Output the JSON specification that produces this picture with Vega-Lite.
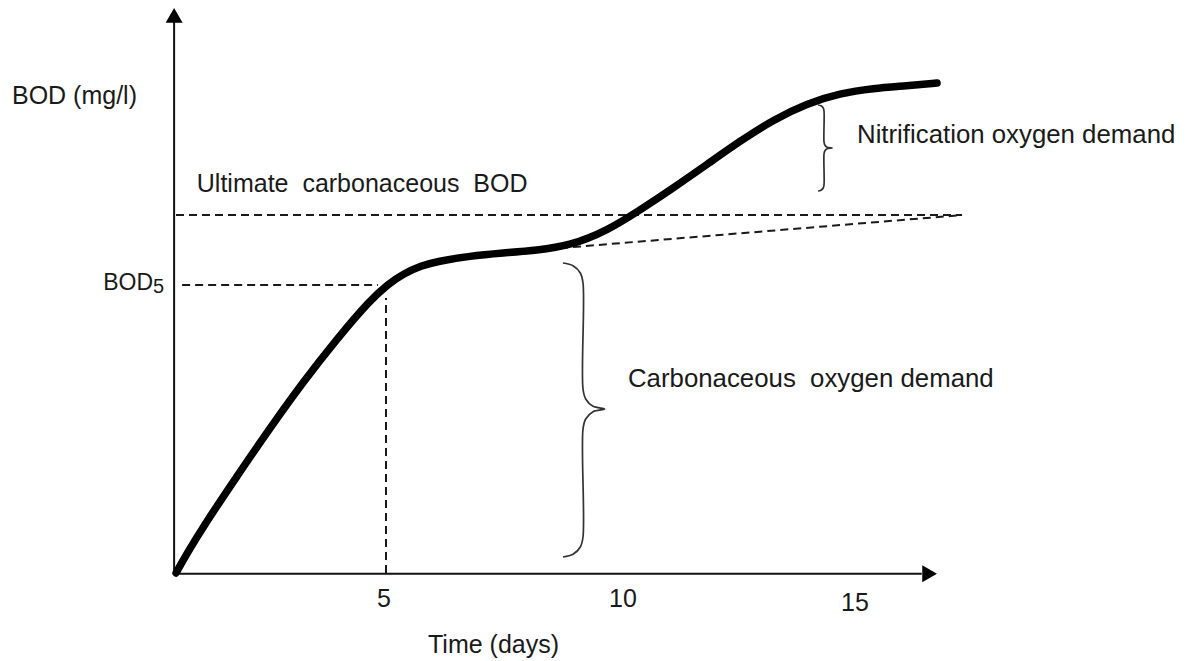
{
  "$schema": "https://vega.github.io/schema/vega-lite/v6.json",
  "width": 1191,
  "height": 661,
  "autosize": {"type": "fit", "contains": "padding"},
  "padding": 0,
  "background": "white",
  "view": {"stroke": null},
  "config": {"font": "Liberation Sans"},
  "datasets": {
    "axes": [
      {"x": 0.46, "y": -0.02, "x2": 0.46, "y2": 15.35},
      {"x": 0.46, "y": -0.02, "x2": 16.3, "y2": -0.02}
    ],
    "arrowUp": [{"x": 0.46, "y": 15.532}],
    "arrowRight": [{"x": 16.466, "y": -0.02}],
    "dashes": [
      {"x": 0.63, "y": 8.02, "x2": 4.78, "y2": 8.02},
      {"x": 4.949, "y": 0, "x2": 4.949, "y2": 7.66},
      {"x": 0.5, "y": 9.97, "x2": 17.153, "y2": 9.97},
      {"x": 8.636, "y": 9.05, "x2": 17.153, "y2": 9.97}
    ],
    "curve": [
      {"x": 0.5, "y": 0},
      {"x": 0.75, "y": 0.58},
      {"x": 1.072, "y": 1.281},
      {"x": 1.792, "y": 2.7},
      {"x": 2.492, "y": 4.039},
      {"x": 3.191, "y": 5.32},
      {"x": 3.911, "y": 6.52},
      {"x": 4.61, "y": 7.6},
      {"x": 5.0, "y": 8.05},
      {"x": 5.309, "y": 8.33},
      {"x": 5.7, "y": 8.56},
      {"x": 6.03, "y": 8.68},
      {"x": 6.729, "y": 8.83},
      {"x": 7.428, "y": 8.914},
      {"x": 8.148, "y": 8.99},
      {"x": 8.847, "y": 9.12},
      {"x": 9.631, "y": 9.53},
      {"x": 10.331, "y": 10.11},
      {"x": 11.03, "y": 10.72},
      {"x": 11.75, "y": 11.38},
      {"x": 12.449, "y": 12.03},
      {"x": 13.148, "y": 12.62},
      {"x": 13.869, "y": 13.08},
      {"x": 14.568, "y": 13.36},
      {"x": 15.267, "y": 13.5},
      {"x": 15.987, "y": 13.57},
      {"x": 16.623, "y": 13.65}
    ],
    "braces": [
      {"b": "carb", "i": 1, "x": 8.699, "y": 8.635},
      {"b": "carb", "i": 2, "x": 8.911, "y": 8.56},
      {"b": "carb", "i": 3, "x": 9.066, "y": 8.357},
      {"b": "carb", "i": 4, "x": 9.123, "y": 8.078},
      {"b": "carb", "i": 5, "x": 9.123, "y": 5.125},
      {"b": "carb", "i": 6, "x": 9.18, "y": 4.847},
      {"b": "carb", "i": 7, "x": 9.335, "y": 4.643},
      {"b": "carb", "i": 8, "x": 9.58, "y": 4.568},
      {"b": "carb", "i": 9, "x": 9.335, "y": 4.493},
      {"b": "carb", "i": 10, "x": 9.18, "y": 4.29},
      {"b": "carb", "i": 11, "x": 9.123, "y": 4.011},
      {"b": "carb", "i": 12, "x": 9.123, "y": 1.003},
      {"b": "carb", "i": 13, "x": 9.066, "y": 0.724},
      {"b": "carb", "i": 14, "x": 8.911, "y": 0.521},
      {"b": "carb", "i": 15, "x": 8.699, "y": 0.446},
      {"b": "nitr", "i": 1, "x": 14.102, "y": 13.036},
      {"b": "nitr", "i": 2, "x": 14.165, "y": 13.014},
      {"b": "nitr", "i": 3, "x": 14.212, "y": 12.953},
      {"b": "nitr", "i": 4, "x": 14.229, "y": 12.869},
      {"b": "nitr", "i": 5, "x": 14.229, "y": 12.006},
      {"b": "nitr", "i": 6, "x": 14.246, "y": 11.922},
      {"b": "nitr", "i": 7, "x": 14.292, "y": 11.861},
      {"b": "nitr", "i": 8, "x": 14.4, "y": 11.838},
      {"b": "nitr", "i": 9, "x": 14.292, "y": 11.816},
      {"b": "nitr", "i": 10, "x": 14.246, "y": 11.755},
      {"b": "nitr", "i": 11, "x": 14.229, "y": 11.671},
      {"b": "nitr", "i": 12, "x": 14.229, "y": 10.808},
      {"b": "nitr", "i": 13, "x": 14.212, "y": 10.724},
      {"b": "nitr", "i": 14, "x": 14.165, "y": 10.663},
      {"b": "nitr", "i": 15, "x": 14.102, "y": 10.641}
    ],
    "labelsLeft": [
      {"text": "BOD (mg/l)", "x": -2.975, "y": 13.064},
      {"text": "Ultimate\u00a0 carbonaceous\u00a0 BOD", "x": 0.941, "y": 10.613},
      {"text": "Time (days)", "x": 5.839, "y": -2.228}
    ],
    "labelsDemand": [
      {"text": "Carbonaceous\u00a0 oxygen demand", "x": 10.076, "y": 5.181},
      {"text": "Nitrification oxygen demand", "x": 14.928, "y": 11.978}
    ],
    "ticks": [
      {"text": "5", "x": 4.907, "y": -0.947},
      {"text": "10", "x": 9.97, "y": -0.947},
      {"text": "15", "x": 14.886, "y": -1.058}
    ],
    "bodMain": [{"text": "BOD", "x": 0.0127, "y": 7.883}],
    "bodSub": [{"text": "5", "x": 0.0127, "y": 7.799}]
  },
  "encoding": {
    "x": {"field": "x", "type": "quantitative", "axis": null, "scale": {"domain": [-3.2288, 22.0042], "nice": false, "zero": false}},
    "y": {"field": "y", "type": "quantitative", "axis": null, "scale": {"domain": [-2.4513, 15.961], "nice": false, "zero": false}}
  },
  "layer": [
    {
      "data": {"name": "axes"},
      "mark": {"type": "rule", "color": "#111111", "strokeWidth": 2},
      "encoding": {"x2": {"field": "x2"}, "y2": {"field": "y2"}}
    },
    {
      "data": {"name": "arrowUp"},
      "mark": {"type": "point", "shape": "triangle-up", "filled": true, "color": "#000000", "size": 289, "opacity": 1}
    },
    {
      "data": {"name": "arrowRight"},
      "mark": {"type": "point", "shape": "triangle-right", "filled": true, "color": "#000000", "size": 289, "opacity": 1}
    },
    {
      "data": {"name": "dashes"},
      "mark": {"type": "rule", "color": "#1a1a1a", "strokeWidth": 2, "strokeDash": [8, 5]},
      "encoding": {"x2": {"field": "x2"}, "y2": {"field": "y2"}}
    },
    {
      "data": {"name": "curve"},
      "mark": {"type": "line", "color": "#000000", "strokeWidth": 7.5, "interpolate": "basis", "strokeCap": "round"},
      "encoding": {}
    },
    {
      "data": {"name": "braces"},
      "mark": {"type": "line", "color": "#333333", "strokeWidth": 1.7, "interpolate": "catmull-rom"},
      "encoding": {"detail": {"field": "b"}, "order": {"field": "i", "type": "quantitative"}}
    },
    {
      "data": {"name": "labelsLeft"},
      "mark": {"type": "text", "align": "left", "baseline": "alphabetic", "fontSize": 25, "color": "#1a1a1a"},
      "encoding": {"text": {"field": "text"}}
    },
    {
      "data": {"name": "labelsDemand"},
      "mark": {"type": "text", "align": "left", "baseline": "alphabetic", "fontSize": 25.8, "color": "#1a1a1a"},
      "encoding": {"text": {"field": "text"}}
    },
    {
      "data": {"name": "ticks"},
      "mark": {"type": "text", "align": "center", "baseline": "alphabetic", "fontSize": 25, "color": "#1a1a1a"},
      "encoding": {"text": {"field": "text"}}
    },
    {
      "data": {"name": "bodMain"},
      "mark": {"type": "text", "align": "right", "baseline": "alphabetic", "fontSize": 23, "color": "#1a1a1a"},
      "encoding": {"text": {"field": "text"}}
    },
    {
      "data": {"name": "bodSub"},
      "mark": {"type": "text", "align": "left", "baseline": "alphabetic", "fontSize": 20, "color": "#1a1a1a"},
      "encoding": {"text": {"field": "text"}}
    }
  ]
}
